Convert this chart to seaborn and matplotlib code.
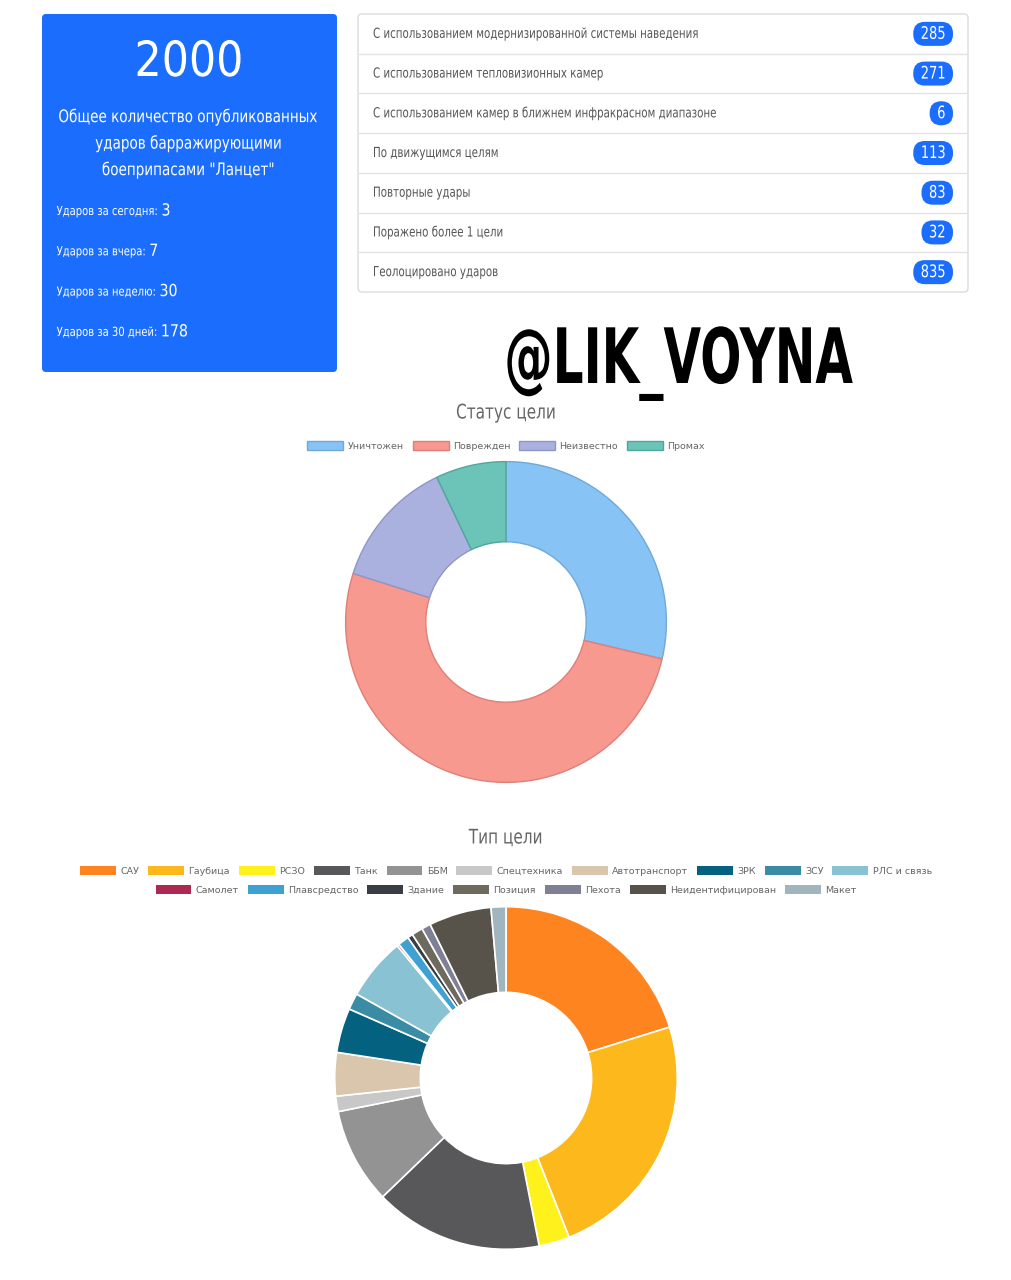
import matplotlib
matplotlib.use("Agg")
import matplotlib.pyplot as plt
import seaborn as sns
from matplotlib.patches import FancyBboxPatch, Patch
from matplotlib.patheffects import AbstractPathEffect
from matplotlib.transforms import Affine2D, Bbox

sns.set_theme(style="white")
plt.rcParams['font.family'] = ['DejaVu Sans']

W, H = 1011, 1280

# --- данные ---
total_strikes = 2000
card_caption = ['Общее количество опубликованных', 'ударов барражирующими', 'боеприпасами "Ланцет"']
period_labels = ['Ударов за сегодня:', 'Ударов за вчера:', 'Ударов за неделю:', 'Ударов за 30 дней:']
period_values = [3, 7, 30, 178]

list_labels = [
    'С использованием модернизированной системы наведения',
    'С использованием тепловизионных камер',
    'С использованием камер в ближнем инфракрасном диапазоне',
    'По движущимся целям',
    'Повторные удары',
    'Поражено более 1 цели',
    'Геолоцировано ударов',
]
list_values = [285, 271, 6, 113, 83, 32, 835]

status_labels = ['Уничтожен', 'Поврежден', 'Неизвестно', 'Промах']
status_values = [574, 1024, 260, 142]
status_colors = ['#88c3f5', '#f7998f', '#abb1df', '#6cc3b8']
status_edges = ['#6fa9d8', '#e07f79', '#8f95c8', '#4fa79c']

type_labels = ['САУ', 'Гаубица', 'РСЗО', 'Танк', 'ББМ', 'Спецтехника', 'Автотранспорт',
               'ЗРК', 'ЗСУ', 'РЛС и связь', 'Самолет', 'Плавсредство', 'Здание',
               'Позиция', 'Пехота', 'Неидентифицирован', 'Макет']
type_values = [404, 476, 58, 318, 181, 29, 82, 84, 31, 118, 4, 21, 10, 21, 17, 118, 28]
type_colors = ['#fd841f', '#fdb81b', '#fff21c', '#58585a', '#939393', '#c8c8c8', '#d9c6ac',
               '#046280', '#3a8ca4', '#89c3d3', '#ae2951', '#3fa0d2', '#383d46',
               '#6f6a5e', '#7f7f96', '#57524a', '#a0b5be']

BLUE = '#1a6dfd'
GREY_TXT = '#666666'


# узкий шрифт имитируем сжатием текста по горизонтали
class Squeeze(AbstractPathEffect):
    def __init__(self, sx=1.0, anchor='left'):
        super().__init__()
        self.sx, self.anchor = sx, anchor

    def draw_path(self, renderer, gc, tpath, affine, rgbFace=None):
        ext = tpath.get_extents()
        cx = {'left': 0.0, 'center': (ext.x0 + ext.x1) / 2, 'right': ext.x1}[self.anchor]
        pre = Affine2D().translate(-cx, 0).scale(self.sx, 1.0).translate(cx, 0)
        renderer.draw_path(gc, tpath, pre + affine, rgbFace)


fig = plt.figure(figsize=(W / 100, H / 100), dpi=100)
fig.patch.set_facecolor('white')

bg = fig.add_axes([0, 0, 1, 1])
bg.set_xlim(0, W)
bg.set_ylim(H, 0)
bg.axis('off')


def stext(x, y, s, sx, anchor='left', **kw):
    t = bg.text(x, y, s, ha=anchor, **kw)
    t.set_path_effects([Squeeze(sx, anchor)])
    t._sx = sx
    return t


def width_px(t):
    # ширина уже сжатого текста в пикселях
    return t.get_window_extent(fig.canvas.get_renderer()).width * t._sx


# синяя карточка
bg.add_patch(FancyBboxPatch((42, 14), 295, 358, boxstyle='round,pad=0,rounding_size=4',
                            fc=BLUE, ec='none'))
stext(189, 62, str(total_strikes), 0.88, 'center', va='center', fontsize=35, color='white')
for i, line in enumerate(card_caption):
    stext(189, 117 + i * 26.5, line, 0.78, 'center', va='center', fontsize=12.5, color='white')

fig.canvas.draw()
for i, (lbl, val) in enumerate(zip(period_labels, period_values)):
    yb = 215 + i * 40.3
    t = stext(0, yb, lbl, 0.8, 'right', va='baseline', fontsize=9, color='white')
    w = width_px(t)
    t.set_x(57 + w)
    stext(57 + w + 3, yb + 0.5, str(val), 0.85, va='baseline', fontsize=12, color='white')

# список со значками
bg.add_patch(FancyBboxPatch((358, 14), 610, 278, boxstyle='round,pad=0,rounding_size=4',
                            fc='white', ec='#dcdcdc', lw=1))
row_h = 278 / 7
for i, (lbl, val) in enumerate(zip(list_labels, list_values)):
    yc = 14 + row_h * (i + 0.5)
    if i > 0:
        bg.plot([359, 967], [14 + row_h * i] * 2, color='#e3e3e3', lw=1)
    stext(373, yc, lbl, 0.74, va='center', fontsize=10, color='#555555')
    num = stext(0, yc, str(val), 0.75, 'center', va='center', fontsize=12.5, color='white', zorder=4)
    w = width_px(num) + 15
    bg.add_patch(FancyBboxPatch((953 - w, yc - 12), w, 24,
                                boxstyle='round,pad=0,rounding_size=11.5', fc=BLUE, ec='none', zorder=3))
    num.set_x(953 - w / 2)

# водяной знак
stext(853, 383, '@LIK_VOYNA', 0.635, 'right', va='baseline', fontsize=55,
      fontweight='bold', color='black')

# --- Статус цели ---
stext(506, 413, 'Статус цели', 0.76, 'center', va='center', fontsize=14.5, color=GREY_TXT)
ax1 = fig.add_axes([(506 - 162) / W, 1 - (622 + 162) / H, 324 / W, 324 / H])
wedges1, _ = ax1.pie(status_values, colors=sns.color_palette(status_colors), startangle=90,
                     counterclock=False, wedgeprops=dict(width=0.5, linewidth=1))
for wdg, ec in zip(wedges1, status_edges):
    wdg.set_edgecolor(ec)
ax1.set_xlim(-1.01, 1.01)
ax1.set_ylim(-1.01, 1.01)
ax1.axis('off')

leg_kw = dict(loc='center', frameon=False, fontsize=6.8, handlelength=3.8, handleheight=1.05,
              handletextpad=0.45, columnspacing=0.95, labelcolor=GREY_TXT)
h1 = [Patch(fc=c, ec=e, lw=1) for c, e in zip(status_colors, status_edges)]
fig.legend(h1, status_labels, bbox_to_anchor=(506 / W, 1 - 446 / H), ncol=4, **leg_kw)

# --- Тип цели ---
stext(506, 838, 'Тип цели', 0.76, 'center', va='center', fontsize=14.5, color=GREY_TXT)
ax2 = fig.add_axes([(506 - 173) / W, 1 - (1078 + 173) / H, 346 / W, 346 / H])
ax2.pie(type_values, colors=sns.color_palette(type_colors), startangle=90, counterclock=False,
        wedgeprops=dict(width=0.5, linewidth=1.2, edgecolor='white'))
ax2.set_xlim(-1.01, 1.01)
ax2.set_ylim(-1.01, 1.01)
ax2.axis('off')

h2 = [Patch(fc=c, ec='none') for c in type_colors]
fig.legend(h2[:10], type_labels[:10], bbox_to_anchor=(506 / W, 1 - 871 / H), ncol=10, **leg_kw)
fig.legend(h2[10:], type_labels[10:], bbox_to_anchor=(506 / W, 1 - 890 / H), ncol=7, **leg_kw)

fig.savefig('out.png', dpi=100, facecolor='white')
